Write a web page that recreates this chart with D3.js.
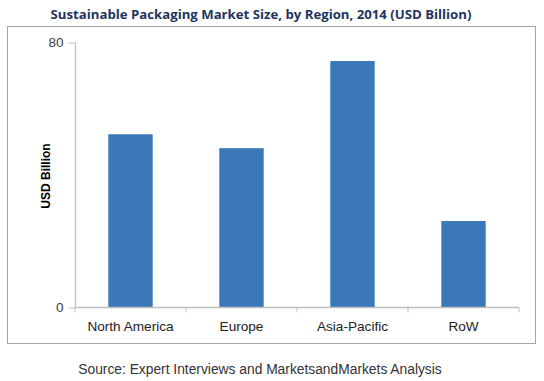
<!DOCTYPE html>
<html><head><meta charset="utf-8">
<script src="https://cdn.jsdelivr.net/npm/d3@7"></script>
<style>body{margin:0;background:#fff;}svg{display:block;}</style>
</head><body>
<svg id="c" width="544" height="381"></svg>
<script>
const categories = ["North America", "Europe", "Asia-Pacific", "RoW"];
const values = [52.3, 48.1, 74.4, 26.1];
const yTicks = [0, 80];
const title = "Sustainable Packaging Market Size, by Region, 2014 (USD Billion)";
const yLabel = "USD Billion";
const source = "Source: Expert Interviews and MarketsandMarkets Analysis";

const svg = d3.select("#c");
// frame
svg.append("rect").attr("x", 7.5).attr("y", 26.5).attr("width", 528).attr("height", 317)
  .attr("fill", "#fff").attr("stroke", "#a6a6a6").attr("stroke-width", 1);

svg.append("text").attr("x", 261).attr("y", 19).attr("text-anchor", "middle")
  .attr("font-family", "Open Sans, sans-serif").attr("font-weight", "bold").attr("font-size", 13.2)
  .attr("fill", "#1f3560").text(title);

const x = d3.scaleBand().domain(categories).range([75, 519]).paddingInner(0.6).paddingOuter(0.3);
const y = d3.scaleLinear().domain([0, 80]).range([307.5, 42.5]);

svg.selectAll("rect.bar").data(values).enter().append("rect").attr("class", "bar")
  .attr("x", (d, i) => x(categories[i])).attr("width", x.bandwidth())
  .attr("y", d => y(d)).attr("height", d => y(0) - y(d)).attr("fill", "#3a78b8");

// y axis
const ya = svg.append("g").attr("transform", "translate(75.5,0)")
  .call(d3.axisLeft(y).tickValues(yTicks).tickSize(7).tickPadding(5));
ya.select(".domain").attr("stroke", "#bfbfbf").attr("stroke-width", 1.3).attr("d", "M0,42.5V307.5");
ya.selectAll(".tick line").attr("stroke", "#bfbfbf");
ya.selectAll(".tick text").attr("font-family", "Arial, Liberation Sans, sans-serif").attr("font-size", 13.5).attr("fill", "#404040");

// x axis
const xa = svg.append("g").attr("transform", "translate(0,307.5)");
xa.append("line").attr("x1", 75).attr("x2", 519).attr("stroke", "#bfbfbf").attr("stroke-width", 1.3);
const bounds = d3.range(categories.length + 1).map(i => 75 + i * (444 / categories.length));
xa.selectAll("line.t").data(bounds).enter().append("line").attr("class", "t")
  .attr("x1", d => d).attr("x2", d => d).attr("y1", 0).attr("y2", 5).attr("stroke", "#bfbfbf");
xa.selectAll("text").data(categories).enter().append("text")
  .attr("x", d => x(d) + x.bandwidth() / 2).attr("y", 23).attr("text-anchor", "middle")
  .attr("font-family", "Arial, Liberation Sans, sans-serif").attr("font-size", 13.6).attr("fill", "#222")
  .text(d => d);

svg.append("text").attr("transform", "translate(50,176) rotate(-90)").attr("text-anchor", "middle")
  .attr("font-family", "Arial, Liberation Sans, sans-serif").attr("font-weight", "bold").attr("font-size", 12)
  .attr("fill", "#000").text(yLabel);

svg.append("text").attr("x", 260).attr("y", 374).attr("text-anchor", "middle")
  .attr("font-family", "Arial, Liberation Sans, sans-serif").attr("font-size", 13.8).attr("fill", "#333")
  .text(source);
</script>
</body></html>
